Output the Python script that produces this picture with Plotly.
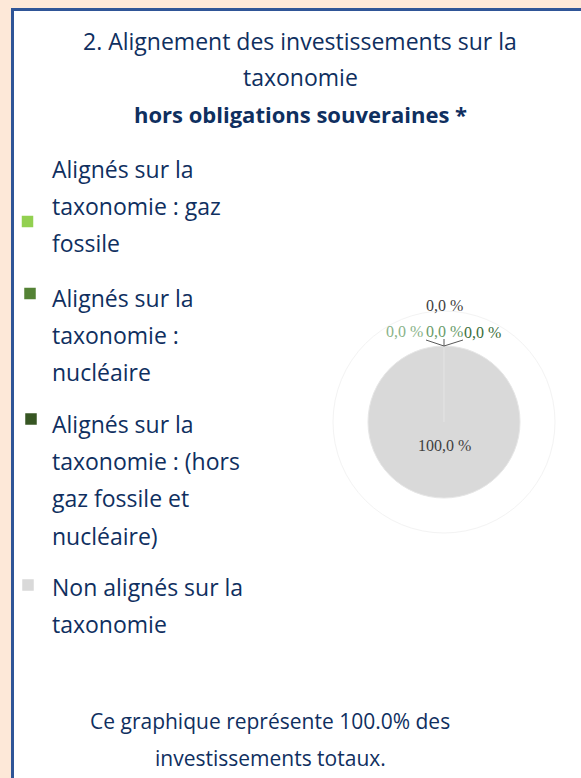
import plotly.graph_objects as go

# données
categories = [
    "Alignés sur la<br>taxonomie : gaz<br>fossile",
    "Alignés sur la<br>taxonomie :<br>nucléaire",
    "Alignés sur la<br>taxonomie : (hors<br>gaz fossile et<br>nucléaire)",
    "Non alignés sur la<br>taxonomie",
]
valeurs = [0.0, 0.0, 0.0, 100.0]
couleurs = ["#92D050", "#548235", "#375623", "#D9D9D9"]
titre = ["2. Alignement des investissements sur la", "taxonomie"]
sous_titre = "hors obligations souveraines *"
note = ["Ce graphique représente 100.0% des", "investissements totaux."]

W, H = 581, 778
NAVY = "#0f2f5f"
FONT = "Open Sans"
FS = 23


def fx(px):
    return px / W


def fy(py):
    return 1 - py / H


def texte(x, y, t, size=FS, **kw):
    d = dict(x=fx(x), y=fy(y), xref="paper", yref="paper", showarrow=False,
             xanchor="center", yanchor="middle", text=t,
             font=dict(family=FONT, size=size, color=NAVY))
    d.update(kw)
    return d


fig = go.Figure()

# camembert
cx, cy, r = 444, 422, 76
fig.add_trace(go.Pie(
    labels=[c.replace("<br>", " ") for c in categories],
    values=valeurs,
    marker=dict(colors=couleurs, line=dict(color="#e6e6e6", width=1)),
    sort=False, direction="clockwise", rotation=0,
    textinfo="none", hoverinfo="label+percent",
    domain=dict(x=[fx(cx - r), fx(cx + r)], y=[fy(cy + r), fy(cy - r)]),
    showlegend=False,
))


def fmt(v):
    return f"{v:.1f} %".replace(".", ",")


annotations = []
shapes = []

# cadre
shapes.append(dict(type="rect", xref="paper", yref="paper",
                   x0=fx(12.5), x1=fx(W + 10), y0=fy(H + 10), y1=fy(9.5),
                   line=dict(color="#2F5597", width=3), fillcolor="white", layer="below"))
# cercle extérieur pâle
shapes.append(dict(type="circle", xref="paper", yref="paper",
                   x0=fx(cx - 111), x1=fx(cx + 111), y0=fy(cy + 111), y1=fy(cy - 111),
                   line=dict(color="#f3f3f3", width=1), layer="below"))
# trait du secteur
shapes.append(dict(type="line", xref="paper", yref="paper",
                   x0=fx(cx), x1=fx(cx), y0=fy(cy), y1=fy(cy - r),
                   line=dict(color="#e4e4e4", width=1)))

# étiquettes des secteurs
SERIF = "Liberation Serif"
lab_pos = [(404.5, 331), (444, 331), (482, 333)]
lab_col = ["#8ab389", "#6a9c6a", "#3a6e3a"]
lead_start = [(426, 340), (444, 339), (463, 340)]
for (lx, ly), col, v, (sx, sy) in zip(lab_pos, lab_col, valeurs[:3], lead_start):
    annotations.append(texte(lx, ly, fmt(v), font=dict(family=SERIF, size=16, color=col)))
    shapes.append(dict(type="line", xref="paper", yref="paper",
                       x0=fx(sx), y0=fy(sy), x1=fx(cx), y1=fy(cy - r),
                       line=dict(color="#595959", width=1)))
annotations.append(texte(cx, 305, fmt(valeurs[0]), font=dict(family=SERIF, size=16, color="#3f3f3f")))
annotations.append(texte(cx, 445, fmt(valeurs[3]), font=dict(family=SERIF, size=16, color="#3f3f3f")))

# titre
for t, y in zip(titre, [40.5, 77]):
    annotations.append(texte(300, y, t))
annotations.append(texte(300, 113.5, "<b>" + sous_titre + "</b>", size=22))

# légende
line_h = 37.3
item_y = [168.7, 297.7, 423.7, 587]
sq_x = [27.5, 30, 31, 28]
sq_y = [221.5, 293.5, 419, 585]
for cat, col, y0, sx, sy in zip(categories, couleurs, item_y, sq_x, sq_y):
    for i, ligne in enumerate(cat.split("<br>")):
        annotations.append(texte(50, y0 + i * line_h, ligne, xanchor="left"))
    shapes.append(dict(type="rect", xref="paper", yref="paper",
                       x0=fx(sx - 5.75), x1=fx(sx + 5.75), y0=fy(sy + 5.75), y1=fy(sy - 5.75),
                       fillcolor=col, line=dict(width=0)))

# note
for t, y in zip(note, [721, 758]):
    annotations.append(texte(270, y, t, size=21))

fig.update_layout(
    width=W, height=H,
    margin=dict(l=0, r=0, t=0, b=0),
    paper_bgcolor="#FDE8D8",
    plot_bgcolor="white",
    annotations=annotations,
    shapes=shapes,
)

fig.write_html("out.html", config={"displayModeBar": False},
               post_script="document.body.style.margin='0';")
